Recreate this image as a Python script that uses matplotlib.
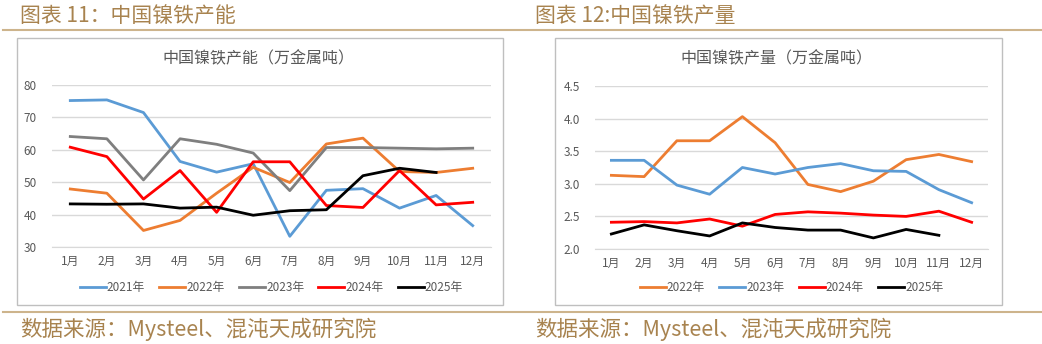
import matplotlib
matplotlib.use("Agg")
import matplotlib.pyplot as plt
from matplotlib.patches import Rectangle
from matplotlib.lines import Line2D

plt.rcParams['font.family'] = ['Noto Sans CJK SC', 'DejaVu Sans']

months = [f"{i}月" for i in range(1, 13)]

# 中国镍铁产能（万金属吨）
cap_2021 = [75.2, 75.4, 71.5, 56.4, 53.1, 55.7, 33.3, 47.5, 48.0, 42.0, 45.9, 36.6]
cap_2022 = [47.9, 46.6, 35.1, 38.2, 46.6, 54.6, 49.9, 61.8, 63.6, 53.3, 53.0, 54.3]
cap_2023 = [64.1, 63.4, 50.7, 63.4, 61.7, 59.0, 47.4, 60.7, 60.7, 60.5, 60.3, 60.5]
cap_2024 = [60.8, 57.9, 44.8, 53.6, 40.7, 56.3, 56.3, 42.8, 42.2, 53.6, 43.0, 43.8]
cap_2025 = [43.3, 43.2, 43.3, 42.0, 42.3, 39.8, 41.2, 41.5, 52.0, 54.3, 53.0]

# 中国镍铁产量（万金属吨）
out_2022 = [3.13, 3.11, 3.66, 3.66, 4.03, 3.63, 2.99, 2.88, 3.04, 3.37, 3.45, 3.34]
out_2023 = [3.36, 3.36, 2.98, 2.84, 3.25, 3.15, 3.25, 3.31, 3.20, 3.19, 2.91, 2.71]
out_2024 = [2.41, 2.42, 2.40, 2.46, 2.35, 2.53, 2.57, 2.55, 2.52, 2.50, 2.58, 2.41]
out_2025 = [2.23, 2.37, 2.28, 2.20, 2.40, 2.33, 2.29, 2.29, 2.17, 2.30, 2.21]

BLUE = "#5b9bd5"
ORANGE = "#ed7d31"
GRAY = "#7f7f7f"
RED = "#ff0000"
BLACK = "#000000"
GOLD = "#a8834f"
LINE_GOLD = "#cdb48c"
TXT = "#595959"

W, H = 1042, 344
fig = plt.figure(figsize=(W / 100, H / 100), dpi=100)


def px_axes(x0, y0, x1, y1):
    return fig.add_axes([x0 / W, 1 - y1 / H, (x1 - x0) / W, (y1 - y0) / H])


def box(x0, y0, x1, y1):
    fig.patches.append(Rectangle((x0 / W, 1 - y1 / H), (x1 - x0) / W, (y1 - y0) / H,
                                 transform=fig.transFigure, fill=False,
                                 edgecolor="#bfbfbf", linewidth=1.0))


def style(ax, ylim, yticks, ylabels):
    x = list(range(1, 13))
    ax.set_xlim(0.5, 12.5)
    ax.set_ylim(*ylim)
    ax.set_yticks(yticks)
    ax.set_yticklabels(ylabels)
    ax.set_xticks(x)
    ax.set_xticklabels(months)
    ax.grid(axis="y", color="#d9d9d9", linewidth=1)
    ax.set_axisbelow(True)
    for s in ["top", "right", "left"]:
        ax.spines[s].set_visible(False)
    ax.spines["bottom"].set_color("#d9d9d9")
    ax.tick_params(length=0, labelsize=8.5, colors=TXT)
    ax.tick_params(axis="y", pad=11)
    ax.tick_params(axis="x", pad=6)


# header / footer rules
fig.add_artist(Line2D([3 / W, 1], [1 - 30 / H] * 2, color=LINE_GOLD, lw=1.5))
fig.add_artist(Line2D([3 / W, 1], [1 - 312 / H] * 2, color=LINE_GOLD, lw=1.5))
fig.text(20 / W, 1 - 16 / H, "图表 11：中国镍铁产能", fontsize=15, color=GOLD, va="center")
fig.text(535 / W, 1 - 16 / H, "图表 12:中国镍铁产量", fontsize=15, color=GOLD, va="center")
fig.text(20 / W, 1 - 329 / H, "数据来源：Mysteel、混沌天成研究院", fontsize=15.5, color=GOLD, va="center")
fig.text(535 / W, 1 - 329 / H, "数据来源：Mysteel、混沌天成研究院", fontsize=15.5, color=GOLD, va="center")

# left chart
box(17, 38, 503, 305)
ax1 = px_axes(52, 85, 491, 247)
x = list(range(1, 13))
ax1.plot(x, cap_2021, color=BLUE, lw=2, label="2021年")
ax1.plot(x, cap_2022, color=ORANGE, lw=2, label="2022年")
ax1.plot(x, cap_2023, color=GRAY, lw=2, label="2023年")
ax1.plot(x, cap_2024, color=RED, lw=2, label="2024年")
ax1.plot(x[:len(cap_2025)], cap_2025, color=BLACK, lw=2, label="2025年")
style(ax1, (30, 80), [30, 40, 50, 60, 70, 80], ["30", "40", "50", "60", "70", "80"])
fig.text(258 / W, 1 - 59 / H, "中国镍铁产能（万金属吨）", fontsize=11.5, color=TXT,
         ha="center", va="center")
ax1.legend(loc="center", bbox_to_anchor=(0.5, (247 - 288) / (247 - 85)), ncol=5,
           frameon=False, fontsize=8.5, handlelength=2.2, columnspacing=1.2,
           handletextpad=0.1, labelcolor=TXT)

# right chart
box(555, 38, 1002, 305)
ax2 = px_axes(595, 86, 988, 249)
ax2.plot(x, out_2022, color=ORANGE, lw=2, label="2022年")
ax2.plot(x, out_2023, color=BLUE, lw=2, label="2023年")
ax2.plot(x, out_2024, color=RED, lw=2, label="2024年")
ax2.plot(x[:len(out_2025)], out_2025, color=BLACK, lw=2, label="2025年")
style(ax2, (2.0, 4.5), [2.0, 2.5, 3.0, 3.5, 4.0, 4.5],
      ["2.0", "2.5", "3.0", "3.5", "4.0", "4.5"])
fig.text(776 / W, 1 - 59 / H, "中国镍铁产量（万金属吨）", fontsize=11.5, color=TXT,
         ha="center", va="center")
ax2.legend(loc="center", bbox_to_anchor=(0.5, (249 - 288) / (249 - 86)), ncol=4,
           frameon=False, fontsize=8.5, handlelength=2.2, columnspacing=1.2,
           handletextpad=0.1, labelcolor=TXT)

fig.savefig("out.png", dpi=100, facecolor="white")
